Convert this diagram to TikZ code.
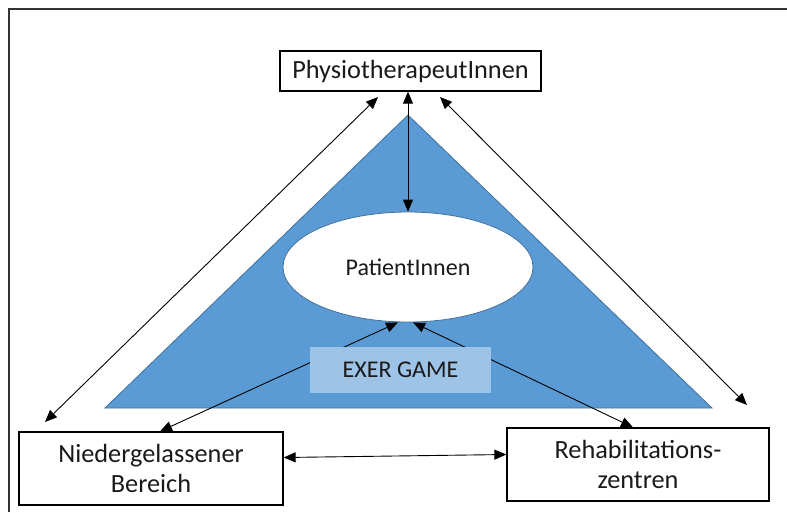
\documentclass[tikz,border=0pt]{standalone}
\usepackage{fontspec}
\setmainfont{Carlito}
\usetikzlibrary{arrows.meta,shapes.geometric}
\definecolor{dreieck}{HTML}{5B9BD5}
\definecolor{dreieckrand}{HTML}{41719C}
\definecolor{spielfeld}{HTML}{9DC3E6}
\definecolor{schrift}{HTML}{1A1A1A}
\begin{document}
\begin{tikzpicture}[x=1pt, y=-1pt, >={Triangle[length=12pt,width=10pt]},
    every node/.style={font=\fontsize{24}{29}\selectfont, text=schrift},
    kasten/.style={draw, line width=1.3pt, rectangle, align=center, font=\fontsize{26.3}{30}\selectfont},
    pfeil/.style={<->, line width=0.9pt}]
    \useasboundingbox (0,0) rectangle (787,512);
    % Rahmen
    \draw[line width=2pt, black!80] (9,512) -- (9,9) -- (787,9);

    % Dreieck
    \filldraw[fill=dreieck, draw=dreieckrand, line width=0.8pt] (408,115) -- (712,408) -- (105,408) -- cycle;

    % Knoten
    \node[kasten, minimum width=261, minimum height=40] (physio) at (410.5,71) {PhysiotherapeutInnen};
    \node[ellipse, draw=dreieckrand, fill=white, line width=0.8pt, minimum width=250, minimum height=110] (patient) at (408,267) {PatientInnen};
    \node[kasten, minimum width=264, minimum height=73] (nieder) at (151,468.5) {Niedergelassener\\Bereich};
    \node[kasten, minimum width=262, minimum height=73] (rehab) at (638,464.5) {Rehabilitations-\\zentren};

    % freie Pfeilenden
    \coordinate (linksunten) at (45,422);
    \coordinate (linksoben) at (378,97);
    \coordinate (rechtsoben) at (440,97);
    \coordinate (rechtsunten) at (747,405);

    % Pfeile
    \draw[pfeil] (linksunten) -- (linksoben);
    \draw[pfeil] (rechtsoben) -- (rechtsunten);
    \draw[pfeil] (patient.north |- physio.south) -- (patient.north);
    \draw[pfeil] ([yshift=11pt]nieder.east) -- ([yshift=10pt]rehab.west);
    \draw[pfeil] ([xshift=9pt]nieder.north) -- ([xshift=-10pt]patient.south);
    \draw[pfeil] ([xshift=-5pt]rehab.north) -- ([xshift=5pt]patient.south);

    % Exergame
    \node[fill=spielfeld, minimum width=181, minimum height=46] (exer) at (400.5,370) {EXER GAME};
\end{tikzpicture}
\end{document}
